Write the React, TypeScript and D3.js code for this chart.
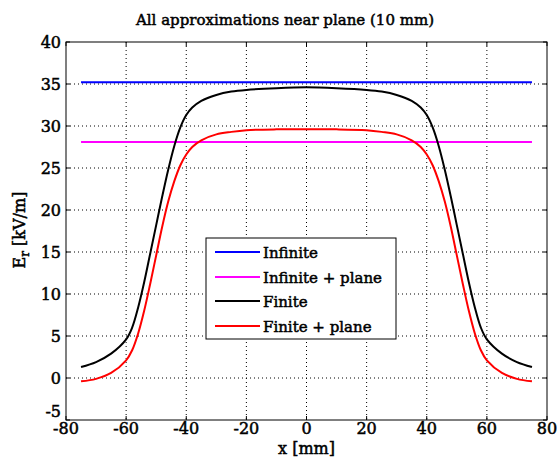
import React from "react";
import * as d3 from "d3";

const xs = [-75, -70, -65, -60, -58, -56, -54, -52, -50, -48, -46, -44, -42, -40, -38, -35, -30, -25, -20, -10, 0, 10, 20, 25, 30, 35, 38, 40, 42, 44, 46, 48, 50, 52, 54, 56, 58, 60, 65, 70, 75];
const finite = [1.3, 1.9, 2.9, 4.6, 6.0, 8.4, 11.4, 14.8, 18.2, 21.6, 24.8, 27.6, 29.8, 31.3, 32.2, 33.0, 33.7, 34.1, 34.3, 34.5, 34.6, 34.5, 34.3, 34.1, 33.7, 33.0, 32.2, 31.3, 29.8, 27.6, 24.8, 21.6, 18.2, 14.8, 11.4, 8.4, 6.0, 4.6, 2.9, 1.9, 1.3];
const finitePlane = [-0.4, -0.1, 0.6, 2.1, 3.3, 5.3, 8.0, 11.2, 14.6, 18.0, 21.0, 23.4, 25.3, 26.6, 27.5, 28.3, 29.0, 29.3, 29.5, 29.6, 29.6, 29.6, 29.5, 29.3, 29.0, 28.3, 27.5, 26.6, 25.3, 23.4, 21.0, 18.0, 14.6, 11.2, 8.0, 5.3, 3.3, 2.1, 0.6, -0.1, -0.4];
const infiniteValue = 35.2;
const infinitePlaneValue = 28.1;
const xTicks = [-80, -60, -40, -20, 0, 20, 40, 60, 80];
const yTicks = [-5, 0, 5, 10, 15, 20, 25, 30, 35, 40];
const legendLabels = ["Infinite", "Infinite + plane", "Finite", "Finite + plane"];
const colors = ["#0000ff", "#ff00ff", "#000000", "#ff0000"];

export default function App() {
  const W = 557, H = 467;
  const L = 66, R = 547, T = 42, B = 420;
  const x = d3.scaleLinear().domain([-80, 80]).range([L, R]);
  const y = d3.scaleLinear().domain([-5, 40]).range([B, T]);
  const line = d3.line<[number, number]>().x(d => x(d[0])).y(d => y(d[1])).curve(d3.curveCatmullRom.alpha(0.5));
  const series: [number, number][][] = [
    [[-75, infiniteValue], [75, infiniteValue]],
    [[-75, infinitePlaneValue], [75, infinitePlaneValue]],
    xs.map((v, i) => [v, finite[i]] as [number, number]),
    xs.map((v, i) => [v, finitePlane[i]] as [number, number]),
  ];
  const font = "'DejaVu Serif'";
  const bold = { stroke: "#000", strokeWidth: 0.5 } as const;
  const legY = [253, 278, 302, 327];
  return (
    <svg width={W} height={H} style={{ position: "absolute", left: 0, top: 0, background: "#fff" }}>
      <rect x={0} y={0} width={W} height={H} fill="#fff" />
      {xTicks.slice(1, -1).map(t => (
        <line key={"gx" + t} x1={x(t)} x2={x(t)} y1={T} y2={B} stroke="#000" strokeWidth={1} strokeDasharray="1,3" />
      ))}
      {yTicks.slice(1, -1).map(t => (
        <line key={"gy" + t} x1={L} x2={R} y1={y(t)} y2={y(t)} stroke="#000" strokeWidth={1} strokeDasharray="1,3" />
      ))}
      {series.map((s, i) => (
        <path key={i} d={line(s) || ""} fill="none" stroke={colors[i]} strokeWidth={2} />
      ))}
      <rect x={L} y={T} width={R - L} height={B - T} fill="none" stroke="#000" strokeWidth={1} />
      {xTicks.map(t => (
        <g key={"tx" + t}>
          <line x1={x(t)} x2={x(t)} y1={B} y2={B - 4} stroke="#000" />
          <line x1={x(t)} x2={x(t)} y1={T} y2={T + 4} stroke="#000" />
          <text x={x(t)} y={434} fontFamily={font} fontSize={16} textAnchor="middle" {...bold}>{t}</text>
        </g>
      ))}
      {yTicks.map(t => (
        <g key={"ty" + t}>
          <line x1={L} x2={L + 4} y1={y(t)} y2={y(t)} stroke="#000" />
          <line x1={R} x2={R - 4} y1={y(t)} y2={y(t)} stroke="#000" />
          <text x={61} y={t === -5 ? y(t) - 3 : y(t) + 6} fontFamily={font} fontSize={16} textAnchor="end" {...bold}>{t}</text>
        </g>
      ))}
      <text x={285} y={25} fontFamily={font} fontSize={15} textAnchor="middle" {...bold}>All approximations near plane (10 mm)</text>
      <text x={(L + R) / 2} y={454} fontFamily={font} fontSize={16} textAnchor="middle" {...bold}>x [mm]</text>
      <text transform={`translate(25,230) rotate(-90)`} fontFamily={font} fontSize={16} textAnchor="middle" {...bold}>
        E<tspan fontSize={12} dy={4}>r</tspan><tspan dy={-4}> [kV/m]</tspan>
      </text>
      <rect x={206} y={238} width={190} height={101} fill="#fff" stroke="#000" strokeWidth={1} />
      {legendLabels.map((lab, i) => (
        <g key={lab}>
          <line x1={215} x2={260} y1={legY[i] - 1} y2={legY[i] - 1} stroke={colors[i]} strokeWidth={2} />
          <text x={263} y={legY[i] + 5} fontFamily={font} fontSize={15} {...bold}>{lab}</text>
        </g>
      ))}
    </svg>
  );
}
